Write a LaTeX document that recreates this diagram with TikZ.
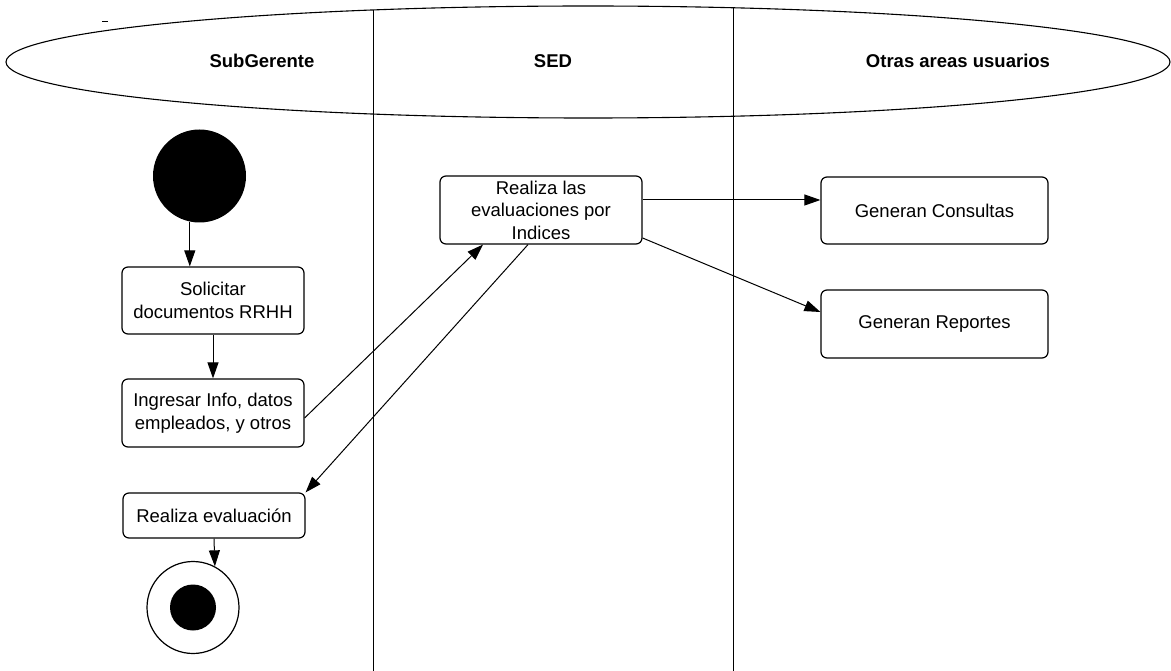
\documentclass[tikz,border=0pt]{standalone}
\usepackage{fontspec}
\setmainfont{Liberation Sans}
\usetikzlibrary{arrows.meta,calc}

\begin{document}
\begin{tikzpicture}[x=1pt,y=-1pt,
  every node/.style={font=\fontsize{18.5}{22.5}\selectfont},
  activity/.style={draw,rounded corners=6pt,line width=1.2pt,align=center,inner sep=2pt},
  lanehead/.style={font=\fontsize{18.5}{22.5}\selectfont\bfseries},
  flow/.style={line width=1pt,-{Triangle[length=16pt,width=11pt]}},
  lane/.style={line width=1pt}]
  \useasboundingbox (0,0) rectangle (1171,671);

  % swimlane header and separators
  \draw[line width=1.1pt] (588,62) ellipse [x radius=582, y radius=56];
  \draw[line width=1pt] (102,21.5) -- (108,21.5);
  \draw[lane] (373,10) -- (373,671);
  \draw[lane] (733,8) -- (733,671);

  \node[lanehead] (hsub) at (262,61) {SubGerente};
  \node[lanehead] (hsed) at (553,61) {SED};
  \node[lanehead] (hotras) at (958,61) {Otras areas usuarios};

  % initial and final states
  \node[circle,fill=black,minimum size=93,inner sep=0] (start) at (199.5,176) {};
  \node[circle,draw,line width=1.2pt,minimum size=92,inner sep=0] (finish) at (193,607.5) {};
  \node[circle,fill=black,minimum size=46,inner sep=0] (finishdot) at (finish.center) {};

  % activities
  \node[activity,minimum width=182,minimum height=67] (solicitar) at (213,300.5)
    {Solicitar\\documentos RRHH};
  \node[activity,minimum width=182,minimum height=68] (ingresar) at (213,413)
    {Ingresar Info, datos\\empleados, y otros};
  \node[activity,minimum width=182,minimum height=45] (evaluacion) at (214,515.5)
    {Realiza evaluación};
  \node[activity,minimum width=202,minimum height=68] (indices) at (541,210)
    {Realiza las\\evaluaciones por\\Indices};
  \node[activity,minimum width=227,minimum height=67] (consultas) at (934.5,210.5)
    {Generan Consultas};
  \node[activity,minimum width=227,minimum height=68] (reportes) at (934.5,324)
    {Generan Reportes};

  % control flow
  \draw[flow] (start.258.7) -- (start.258.7 |- solicitar.north);
  \draw[flow] (solicitar.south) -- (ingresar.north);
  \draw[flow] ($(ingresar.east)+(0,5)$) -- ($(indices.south)+(-58,0)$);
  \draw[flow] ($(indices.south)+(-13,0)$) -- (evaluacion.north east);
  \draw[flow] (evaluacion.south) -- (finish.62.8);
  \draw[flow] ($(indices.east)+(0,-10)$) -- ($(consultas.west)+(0,-10.5)$);
  \draw[flow] ($(indices.east)+(0,28)$) -- ($(reportes.west)+(0,-12)$);
\end{tikzpicture}
\end{document}
